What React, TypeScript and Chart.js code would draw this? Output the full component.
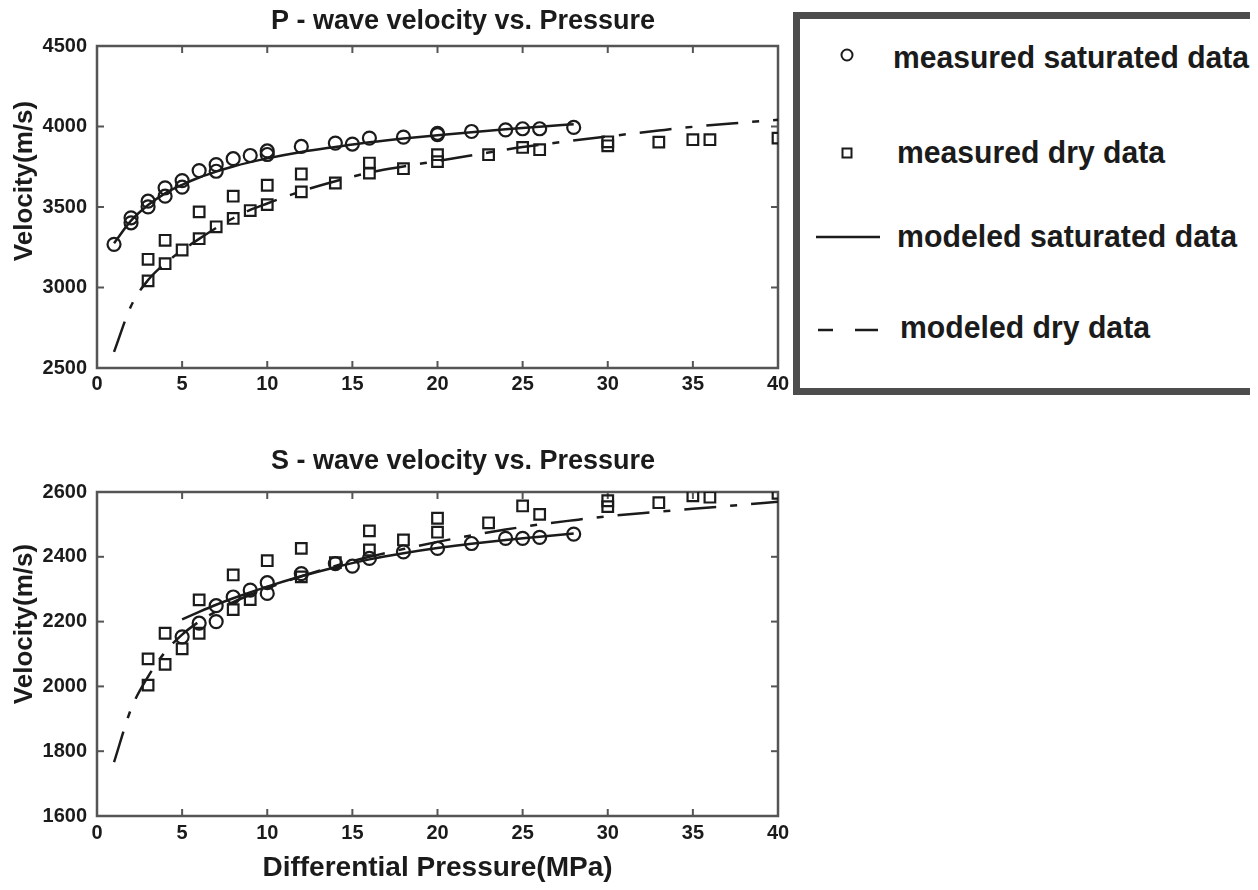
import React, { useEffect, useRef, useState } from "react";
import { Chart, registerables } from "chart.js";

Chart.register(...registerables);

// ---------- tick labels ----------
const xTickValues = [0, 5, 10, 15, 20, 25, 30, 35, 40];
const pTickValues = [2500, 3000, 3500, 4000, 4500];
const sTickValues = [1600, 1800, 2000, 2200, 2400, 2600];

// ---------- P-wave data ----------
const pSatX = [1, 2, 2, 3, 3, 4, 4, 5, 5, 6, 7, 7, 8, 9, 10, 10, 12, 14, 15, 16, 18, 20, 20, 22, 24, 25, 26, 28];
const pSatY = [3268, 3433, 3402, 3536, 3501, 3619, 3567, 3664, 3623, 3726, 3763, 3722, 3800, 3820, 3848, 3826, 3876, 3897, 3891, 3928, 3934, 3950, 3958, 3969, 3979, 3986, 3986, 3994];
const pDryX = [3, 3, 4, 4, 5, 6, 6, 7, 8, 8, 9, 10, 10, 12, 12, 14, 16, 16, 18, 20, 20, 23, 25, 26, 30, 30, 33, 35, 36, 40];
const pDryY = [3041, 3175, 3293, 3148, 3233, 3303, 3470, 3377, 3429, 3567, 3478, 3515, 3635, 3594, 3705, 3649, 3711, 3773, 3738, 3782, 3825, 3825, 3870, 3856, 3905, 3880, 3903, 3918, 3918, 3928];
const pSatModelX = [1, 2, 3, 4, 5, 6, 7, 8, 10, 12, 14, 16, 18, 20, 22, 24, 26, 28];
const pSatModelY = [3275, 3415, 3512, 3585, 3638, 3683, 3720, 3752, 3802, 3842, 3873, 3902, 3926, 3946, 3965, 3983, 3999, 4014];
const pDryModelX = [1, 2, 3, 4, 5, 6, 7, 8, 9, 10, 12, 14, 16, 18, 20, 23, 25, 30, 33, 35, 38, 40];
const pDryModelY = [2600, 2885, 3046, 3150, 3230, 3302, 3370, 3430, 3482, 3522, 3598, 3660, 3714, 3752, 3786, 3838, 3872, 3938, 3975, 3998, 4025, 4042];

// ---------- S-wave data ----------
const sSatX = [5, 6, 7, 7, 8, 9, 10, 10, 12, 14, 15, 16, 18, 20, 22, 24, 25, 26, 28];
const sSatY = [2153, 2195, 2200, 2249, 2276, 2297, 2320, 2287, 2348, 2379, 2371, 2395, 2415, 2426, 2441, 2457, 2457, 2460, 2470];
const sDryX = [3, 3, 4, 4, 5, 6, 6, 8, 8, 9, 10, 12, 12, 14, 16, 16, 18, 20, 20, 23, 25, 26, 30, 30, 33, 35, 36, 40];
const sDryY = [2085, 2004, 2164, 2068, 2116, 2267, 2164, 2344, 2237, 2268, 2388, 2426, 2338, 2382, 2480, 2421, 2452, 2519, 2476, 2505, 2557, 2531, 2573, 2555, 2567, 2588, 2584, 2596];
const sSatModelX = [5, 6, 7, 8, 10, 12, 14, 16, 18, 20, 22, 24, 26, 28];
const sSatModelY = [2207, 2230, 2252, 2272, 2308, 2340, 2368, 2392, 2411, 2427, 2440, 2452, 2462, 2472];
const sDryModelX = [1, 2, 3, 4, 5, 6, 7, 8, 10, 12, 14, 16, 18, 20, 22, 24, 26, 28, 30, 33, 35, 38, 40];
const sDryModelY = [1766, 1930, 2030, 2106, 2160, 2200, 2232, 2260, 2303, 2340, 2372, 2400, 2424, 2446, 2466, 2484, 2500, 2513, 2525, 2539, 2548, 2561, 2570];

const legendLabels = ["measured saturated data", "measured dry data", "modeled saturated data", "modeled dry data"];

const FONT = '"Liberation Sans", Arial, Helvetica, sans-serif';
const INK = "#1b1b1b";
const FRAME = "#555555";
const DRY_DASH = [32, 14, 7, 14];

function pts(xs: number[], ys: number[]) {
  return xs.map((x, i) => ({ x, y: ys[i] }));
}

const framePlugin = {
  id: "frameTicks",
  beforeDatasetsDraw(chart: any) {
    const { ctx, chartArea: a, scales } = chart;
    const x = scales.x;
    const y = scales.y;
    ctx.save();
    ctx.strokeStyle = FRAME;
    ctx.lineWidth = 2.5;
    ctx.strokeRect(a.left, a.top, a.right - a.left, a.bottom - a.top);
    ctx.lineWidth = 2;
    const L = 7;
    const seg = (x1: number, y1: number, x2: number, y2: number) => {
      ctx.beginPath();
      ctx.moveTo(x1, y1);
      ctx.lineTo(x2, y2);
      ctx.stroke();
    };
    xTickValues.forEach((v) => {
      if (v <= x.min || v >= x.max) return;
      const px = x.getPixelForValue(v);
      seg(px, a.bottom, px, a.bottom - L);
      seg(px, a.top, px, a.top + L);
    });
    const yVals: number[] = chart.$yTicks || [];
    yVals.forEach((v: number) => {
      if (v <= y.min || v >= y.max) return;
      const py = y.getPixelForValue(v);
      seg(a.left, py, a.left + L, py);
      seg(a.right, py, a.right - L, py);
    });
    ctx.restore();
  },
};

const yTitlePlugin = {
  id: "yTitle",
  afterDraw(chart: any) {
    const info = chart.$yTitle;
    if (!info) return;
    const { ctx, chartArea: a } = chart;
    ctx.save();
    ctx.translate(info.x, (a.top + a.bottom) / 2 - info.shift);
    ctx.rotate(-Math.PI / 2);
    ctx.font = `bold 26px ${FONT}`;
    ctx.fillStyle = INK;
    ctx.textAlign = "center";
    ctx.textBaseline = "middle";
    ctx.fillText(info.text, 0, 0);
    ctx.restore();
  },
};

type Cfg = {
  title: string;
  satX: number[]; satY: number[];
  dryX: number[]; dryY: number[];
  satMX: number[]; satMY: number[];
  dryMX: number[]; dryMY: number[];
  yMin: number; yMax: number; yTicks: number[];
  titleTop: number; titleBottom: number;
  padBottom: number; xHeight: number; xPad: number;
  xTitle: string | null;
  yShift: number;
};

function buildConfig(c: Cfg): any {
  const tickFont = { family: FONT, size: 20, weight: "bold" };
  return {
    type: "scatter",
    data: {
      datasets: [
        {
          label: legendLabels[0],
          data: pts(c.satX, c.satY),
          pointStyle: "circle",
          pointRadius: 6.5,
          borderWidth: 2.2,
          borderColor: INK,
          backgroundColor: "rgba(0,0,0,0)",
          showLine: false,
        },
        {
          label: legendLabels[1],
          data: pts(c.dryX, c.dryY),
          pointStyle: "rect",
          pointRadius: 7.5,
          borderWidth: 2.2,
          borderColor: INK,
          backgroundColor: "rgba(0,0,0,0)",
          showLine: false,
        },
        {
          label: legendLabels[2],
          data: pts(c.satMX, c.satMY),
          showLine: true,
          pointRadius: 0,
          borderColor: INK,
          borderWidth: 2.5,
          cubicInterpolationMode: "monotone",
          fill: false,
        },
        {
          label: legendLabels[3],
          data: pts(c.dryMX, c.dryMY),
          showLine: true,
          pointRadius: 0,
          borderColor: INK,
          borderWidth: 2.5,
          borderDash: DRY_DASH,
          cubicInterpolationMode: "monotone",
          fill: false,
        },
      ],
    },
    options: {
      responsive: false,
      animation: false,
      layout: { padding: { left: 0, right: 0, top: 0, bottom: c.padBottom } },
      plugins: {
        legend: { display: false },
        tooltip: { enabled: false },
        title: {
          display: true,
          text: c.title,
          color: INK,
          font: { family: FONT, size: 27, weight: "bold", lineHeight: 1.2 },
          padding: { top: c.titleTop, bottom: c.titleBottom },
        },
      },
      scales: {
        x: {
          type: "linear",
          min: 0,
          max: 40,
          ticks: {
            stepSize: xTickValues[1] - xTickValues[0],
            callback: (v: any) => String(v),
            font: tickFont,
            color: INK,
            padding: c.xPad,
            maxRotation: 0,
            autoSkip: false,
          },
          grid: { display: false, drawTicks: false },
          border: { display: false },
          title: c.xTitle
            ? {
                display: true,
                text: c.xTitle,
                color: INK,
                font: { family: FONT, size: 28, weight: "bold", lineHeight: 1.2 },
                padding: { top: 0, bottom: 5 },
              }
            : { display: false },
          afterFit: (s: any) => {
            s.height = c.xHeight;
          },
        },
        y: {
          type: "linear",
          min: c.yMin,
          max: c.yMax,
          ticks: {
            stepSize: c.yTicks[1] - c.yTicks[0],
            callback: (v: any) => String(v),
            font: tickFont,
            color: INK,
            padding: 10,
            autoSkip: false,
          },
          grid: { display: false, drawTicks: false },
          border: { display: false },
          afterFit: (s: any) => {
            s.width = 97;
          },
        },
        y2: {
          type: "linear",
          position: "right",
          display: true,
          min: 0,
          max: 1,
          ticks: { display: false },
          grid: { display: false, drawTicks: false },
          border: { display: false },
          afterFit: (s: any) => {
            s.width = 148;
          },
        },
      },
    },
    plugins: [framePlugin, yTitlePlugin],
  };
}

function ChartCanvas(props: { cfg: Cfg; top: number; width: number; height: number }) {
  const ref = useRef<HTMLCanvasElement | null>(null);
  const [err, setErr] = useState<string>("");
  useEffect(() => {
    if (!ref.current) return;
    let chart: any = null;
    try {
      const cfg = buildConfig(props.cfg);
      chart = new Chart(ref.current, cfg);
      chart.$yTitle = { text: "Velocity(m/s)", x: 25, shift: props.cfg.yShift };
      chart.$yTicks = props.cfg.yTicks;
      chart.draw();
    } catch (e: any) {
      setErr(String(e && e.stack ? e.stack : e));
    }
    return () => {
      if (chart) chart.destroy();
    };
  }, []);
  return (
    <>
      <canvas
        ref={ref}
        width={props.width}
        height={props.height}
        style={{ position: "absolute", left: 0, top: props.top, width: props.width, height: props.height }}
      />
      {err ? (
        <pre style={{ position: "absolute", left: 0, top: props.top, fontSize: 12, color: "red", whiteSpace: "pre-wrap", width: 900 }}>{err}</pre>
      ) : null}
    </>
  );
}

function Legend() {
  const textStyle: any = { fontFamily: FONT, fontSize: 32, fontWeight: 700, fill: INK };
  return (
    <svg width={465} height={383} style={{ position: "absolute", left: 793, top: 12 }}>
      <rect x={3.5} y={3.5} width={458} height={376} fill="#ffffff" stroke="#4d4d4d" strokeWidth={7} />
      <circle cx={54} cy={43} r={5.5} fill="none" stroke={INK} strokeWidth={2} />
      <text x={100} y={56} style={textStyle} textLength={356} lengthAdjust="spacingAndGlyphs">{legendLabels[0]}</text>
      <rect x={49.5} y={136.5} width={9} height={9} fill="none" stroke={INK} strokeWidth={2} />
      <text x={104} y={151} style={textStyle} textLength={268} lengthAdjust="spacingAndGlyphs">{legendLabels[1]}</text>
      <line x1={23} y1={225} x2={87} y2={225} stroke={INK} strokeWidth={2.5} />
      <text x={104} y={235} style={textStyle} textLength={340} lengthAdjust="spacingAndGlyphs">{legendLabels[2]}</text>
      <line x1={25} y1={318} x2={40} y2={318} stroke={INK} strokeWidth={2.5} />
      <line x1={62} y1={318} x2={85} y2={318} stroke={INK} strokeWidth={2.5} />
      <text x={107} y={326} style={textStyle} textLength={250} lengthAdjust="spacingAndGlyphs">{legendLabels[3]}</text>
    </svg>
  );
}

const topCfg: Cfg = {
  title: "P - wave velocity vs. Pressure",
  satX: pSatX, satY: pSatY, dryX: pDryX, dryY: pDryY,
  satMX: pSatModelX, satMY: pSatModelY, dryMX: pDryModelX, dryMY: pDryModelY,
  yMin: 2500, yMax: 4500, yTicks: pTickValues,
  titleTop: 5, titleBottom: 8.6,
  padBottom: 32, xHeight: 40, xPad: 4,
  xTitle: null,
  yShift: 26,
};

const bottomCfg: Cfg = {
  title: "S - wave velocity vs. Pressure",
  satX: sSatX, satY: sSatY, dryX: sDryX, dryY: sDryY,
  satMX: sSatModelX, satMY: sSatModelY, dryMX: sDryModelX, dryMY: sDryModelY,
  yMin: 1600, yMax: 2600, yTicks: sTickValues,
  titleTop: 5.5, titleBottom: 14.1,
  padBottom: 0, xHeight: 74, xPad: 5,
  xTitle: "Differential Pressure(MPa)",
  yShift: 30,
};

export default function App() {
  return (
    <div style={{ position: "relative", left: -8, top: -8, width: 1258, height: 890 }}>
      <ChartCanvas cfg={topCfg} top={0} width={926} height={440} />
      <ChartCanvas cfg={bottomCfg} top={440} width={926} height={450} />
      <Legend />
    </div>
  );
}
